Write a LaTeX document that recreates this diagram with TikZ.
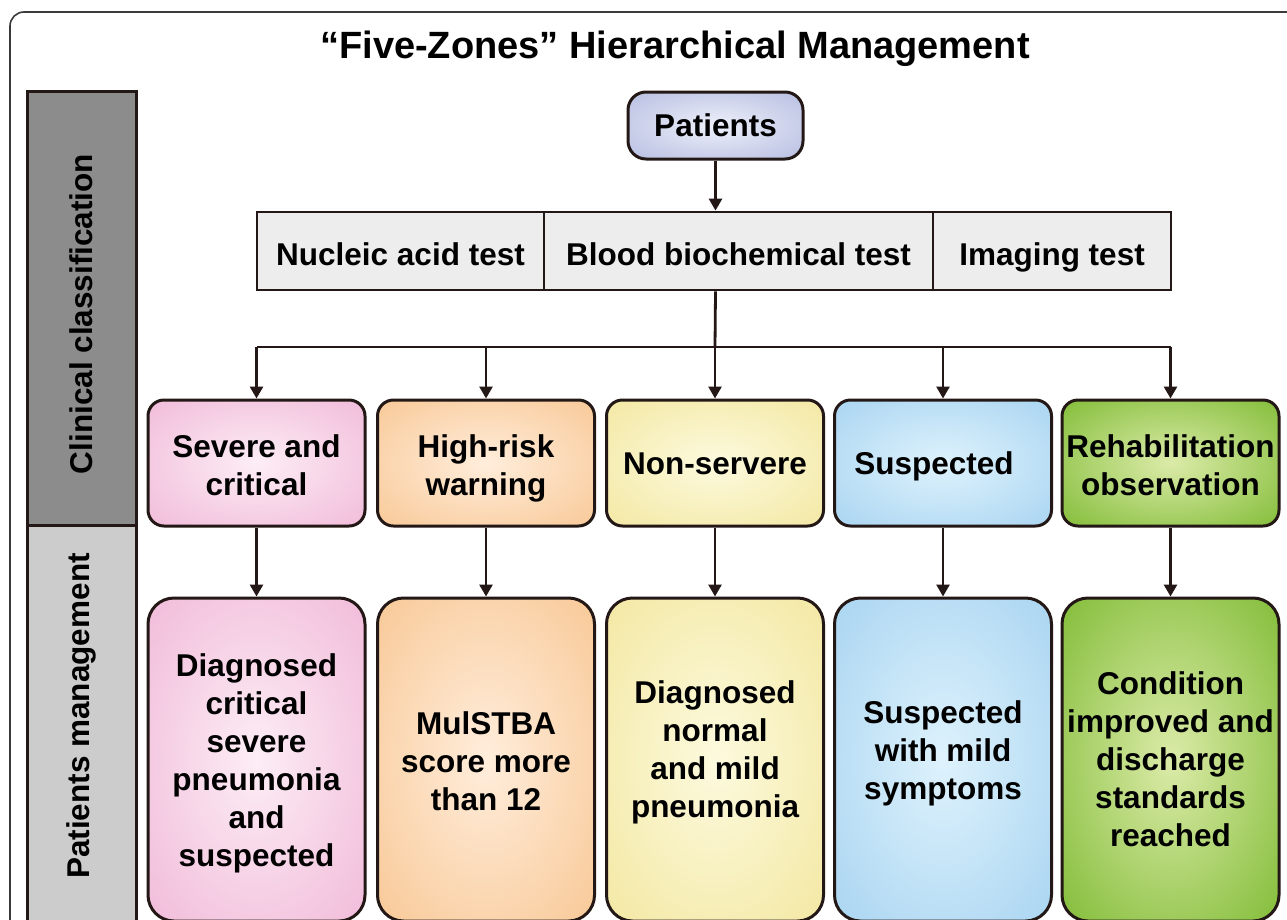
\documentclass[tikz,border=0pt]{standalone}
\usepackage{fontspec}
\setmainfont{Liberation Sans}
\usetikzlibrary{arrows.meta}
\definecolor{edge}{HTML}{231815}
\definecolor{framegray}{HTML}{3A3A3A}
\definecolor{darkbar}{HTML}{8C8C8C}
\definecolor{lightbar}{HTML}{CCCCCC}
\definecolor{testfill}{HTML}{EDEDED}
\pgfdeclareradialshading{shpink}{\pgfpoint{0bp}{0bp}}{rgb(0bp)=(0.99,0.93,0.96); rgb(40bp)=(0.94,0.71,0.84); rgb(50bp)=(0.94,0.71,0.84)}
\pgfdeclareradialshading{shorange}{\pgfpoint{0bp}{0bp}}{rgb(0bp)=(1.0,0.93,0.86); rgb(40bp)=(0.97,0.77,0.56); rgb(50bp)=(0.97,0.77,0.56)}
\pgfdeclareradialshading{shyellow}{\pgfpoint{0bp}{0bp}}{rgb(0bp)=(0.99,0.98,0.87); rgb(40bp)=(0.95,0.90,0.61); rgb(50bp)=(0.95,0.90,0.61)}
\pgfdeclareradialshading{shblue}{\pgfpoint{0bp}{0bp}}{rgb(0bp)=(0.87,0.95,0.99); rgb(40bp)=(0.64,0.82,0.94); rgb(50bp)=(0.64,0.82,0.94)}
\pgfdeclareradialshading{shgreen}{\pgfpoint{0bp}{0bp}}{rgb(0bp)=(0.86,0.92,0.66); rgb(40bp)=(0.47,0.72,0.17); rgb(50bp)=(0.47,0.72,0.17)}
\pgfdeclareradialshading{shpatients}{\pgfpoint{0bp}{0bp}}{rgb(0bp)=(0.93,0.94,0.98); rgb(40bp)=(0.69,0.72,0.87); rgb(50bp)=(0.69,0.72,0.87)}
\newcommand\bxfont{\fontsize{31.5}{38}\selectfont\bfseries}
\tikzset{
  zone/.style={draw=edge, line width=3pt, rounded corners=16pt, minimum width=217pt,
    minimum height=126pt, inner sep=0pt},
  mgmt/.style={zone, rounded corners=26pt, minimum height=323pt},
  ztext/.style={inner sep=0pt, align=center, font=\bxfont},
  testcell/.style={draw=edge, line width=2.8pt, fill=testfill, minimum height=78pt,
    inner sep=0pt, font=\bxfont, text height=28pt, text depth=0pt},
  barbox/.style={draw=edge, line width=3pt, minimum width=109pt, inner sep=0pt},
  bartext/.style={rotate=90, font=\bxfont, inner sep=0pt},
  link/.style={draw=edge, line width=2.8pt},
  arr/.style={link, -{Triangle[length=12pt,width=13pt]}}
}
\begin{document}
\begin{tikzpicture}[x=1pt,y=-1pt]
\useasboundingbox (0,0) rectangle (1287,919);
\clip (0,0) rectangle (1287,919);
\fill[white] (0,0) rectangle (1287,919);
\draw[framegray, line width=1.6pt, rounded corners=14pt] (10,12) rectangle (1340,980);

% title
\node[font=\fontsize{38}{45}\selectfont\bfseries, anchor=base, inner sep=0pt] (title) at (675,58) {“Five-Zones” Hierarchical Management};

% left bar
\node[barbox, fill=darkbar, minimum height=434pt] (ccbar) at (81.5,308) {};
\node[barbox, fill=lightbar, minimum height=420pt] (pmbar) at (81.5,735) {};
\node[bartext] (cctext) at (81,314) {Clinical classification};
\node[bartext] (pmtext) at (81,716) {Patients management};

% patients
\node[draw=edge, line width=3pt, rounded corners=18pt, shading=shpatients,
  minimum width=175pt, minimum height=67pt, inner sep=0pt, font=\bxfont] (patients) at (715.5,125.5) {Patients};

% tests row
\node[testcell, minimum width=287pt] (nucleic) at (400.5,251) {Nucleic acid test};
\node[testcell, minimum width=389pt] (blood) at (738.5,251) {Blood biochemical test};
\node[testcell, minimum width=238pt] (imaging) at (1052,251) {Imaging test};

% classification boxes
\node[zone, shading=shpink] (c1) at (256.5,463) {};
\node[zone, shading=shorange] (c2) at (486,463) {};
\node[zone, shading=shyellow] (c3) at (715,463) {};
\node[zone, shading=shblue] (c4) at (943,463) {};
\node[zone, shading=shgreen] (c5) at (1170.5,463) {};
\node[ztext] (t1) at (256.5,465) {Severe and\\critical};
\node[ztext] (t2) at (486,468.5) {High-risk\\warning};
\node[ztext] (t3) at (715,464) {Non-servere};
\node[ztext] (t4) at (934,466) {Suspected};
\node[ztext] (t5) at (1170.5,465) {Rehabilitation\\observation};

% management boxes
\node[mgmt, shading=shpink] (m1) at (256.5,759.5) {};
\node[mgmt, shading=shorange] (m2) at (486,759.5) {};
\node[mgmt, shading=shyellow] (m3) at (715,759.5) {};
\node[mgmt, shading=shblue] (m4) at (943,759.5) {};
\node[mgmt, shading=shgreen] (m5) at (1170.5,759.5) {};
\node[ztext] (u1) at (256.5,763) {Diagnosed\\critical\\severe\\pneumonia\\and\\suspected};
\node[ztext] (u2) at (486,761) {MulSTBA\\score more\\than 12};
\node[ztext] (u3) at (715,752.5) {Diagnosed\\normal\\and mild\\pneumonia};
\node[ztext] (u4) at (943,753.5) {Suspected\\with mild\\symptoms};
\node[ztext] (u5) at (1170.5,759) {Condition\\improved and\\discharge\\standards\\reached};

% connectors
\coordinate (junction) at (715,347);
\draw[arr] (patients.south) -- (patients.south |- blood.north);
\draw[link] (patients.south |- blood.south) -- (junction);
\draw[link] (c1.north |- junction) -- (c5.north |- junction);
\foreach \i in {1,...,5} {
  \draw[arr] (c\i.north |- junction) -- (c\i.north);
  \draw[arr] (c\i.south) -- (m\i.north);
}
\end{tikzpicture}
\end{document}
